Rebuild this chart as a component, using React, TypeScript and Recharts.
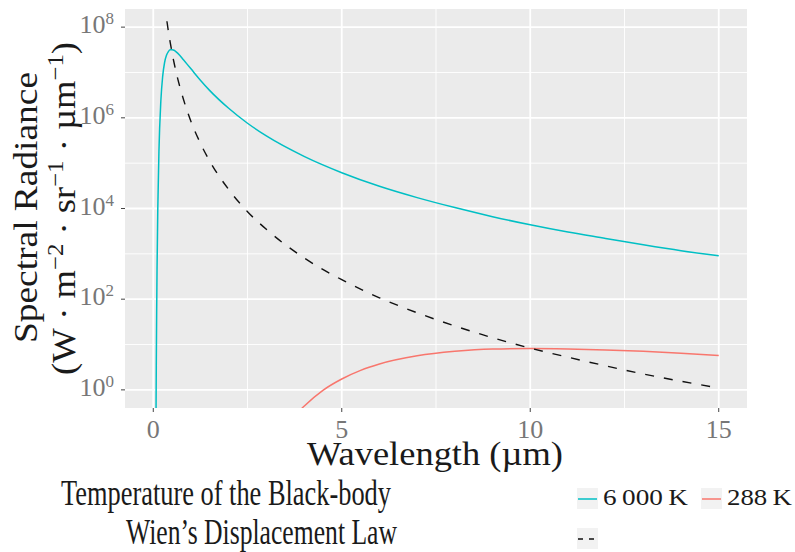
import React from "react";
import { LineChart, Line, XAxis, YAxis, CartesianGrid } from "recharts";

// Wavelength (µm) and log10 spectral radiance (W·m⁻²·sr⁻¹·µm⁻¹)
const hotWavelengths = [0.07, 0.075, 0.08, 0.09, 0.1, 0.12, 0.15, 0.2, 0.25, 0.3, 0.35, 0.4, 0.45, 0.5, 0.55, 0.6, 0.7, 0.8, 1, 1.25, 1.5, 2, 2.5, 3, 4, 5, 6, 7, 8, 9, 10, 11, 12, 13, 14, 15];
const hotLogRadiance = [-1.03, -0.19, 0.54, 1.73, 2.66, 4.0, 5.25, 6.36, 6.92, 7.22, 7.38, 7.46, 7.5, 7.5, 7.49, 7.46, 7.38, 7.28, 7.08, 6.83, 6.6, 6.21, 5.88, 5.6, 5.15, 4.79, 4.49, 4.24, 4.02, 3.82, 3.64, 3.48, 3.34, 3.2, 3.07, 2.96];

const coldWavelengths = [3.8, 4, 4.5, 5, 5.5, 6, 7, 8, 9, 10, 11, 12, 13, 14, 15];
const coldLogRadiance = [-0.53, -0.36, -0.01, 0.24, 0.43, 0.57, 0.75, 0.85, 0.9, 0.91, 0.9, 0.88, 0.85, 0.81, 0.76];

const wienWavelengths = [0.362, 0.4, 0.45, 0.5, 0.55, 0.6, 0.7, 0.8, 1, 1.25, 1.5, 2, 2.5, 3, 4, 5, 6, 7, 8, 9, 10, 11, 12, 13, 14, 15];
const wienLogRadiance = [8.13, 7.91, 7.66, 7.43, 7.22, 7.03, 6.7, 6.41, 5.92, 5.44, 5.04, 4.42, 3.93, 3.54, 2.91, 2.43, 2.03, 1.7, 1.41, 1.15, 0.92, 0.72, 0.53, 0.35, 0.19, 0.04];

const xTicks = [0, 5, 10, 15];
const xMinor = [2.5, 7.5, 12.5];
const yTicks = [0, 2, 4, 6, 8];
const yMinor = [1, 3, 5, 7];

const seriesNames = ["6\u2009000\u2009K", "288\u2009K"];

const hotData = hotWavelengths.map((x, i) => ({ x, y: hotLogRadiance[i] }));
const coldData = coldWavelengths.map((x, i) => ({ x, y: coldLogRadiance[i] }));
const wienData = wienWavelengths.map((x, i) => ({ x, y: wienLogRadiance[i] }));

const FONT = "'Liberation Serif', 'DejaVu Serif', serif";
const CYAN = "#00BFC4";
const RED = "#F8766D";

const XTick = (props: any) => {
  const { x, payload } = props;
  return (
    <text x={x} y={438} textAnchor="middle" fontFamily={FONT} fontSize={26} fill="#777">
      {payload.value}
    </text>
  );
};

const YTick = (props: any) => {
  const { y, payload } = props;
  return (
    <text x={114} y={y + 6} textAnchor="end" fontFamily={FONT} fontSize={26} fill="#777">
      10
      <tspan dy={-9} fontSize={17}>{payload.value}</tspan>
    </text>
  );
};

export default function App() {
  return (
    <div style={{ position: "absolute", left: 0, top: 0, width: 795, height: 552, background: "#fff" }}>
      <LineChart width={795} height={552} margin={{ top: 9, right: 48, bottom: 0, left: 0 }}>
        <CartesianGrid
          fill="#EBEBEB"
          fillOpacity={1}
          stroke="#ffffff"
          strokeWidth={0.9}
          horizontalValues={yMinor}
          verticalValues={xMinor}
        />
        <CartesianGrid
          fill="none"
          stroke="#ffffff"
          strokeWidth={1.8}
          horizontalValues={yTicks}
          verticalValues={xTicks}
        />
        <XAxis
          type="number"
          dataKey="x"
          domain={[-0.75, 15.75]}
          ticks={xTicks}
          allowDataOverflow
          height={144}
          axisLine={false}
          tickLine={{ stroke: "#444", strokeWidth: 1 }}
          tickSize={4}
          tick={<XTick />}
          interval={0}
        />
        <YAxis
          type="number"
          dataKey="y"
          domain={[-0.4, 8.4]}
          ticks={yTicks}
          allowDataOverflow
          width={125}
          axisLine={false}
          tickLine={{ stroke: "#444", strokeWidth: 1 }}
          tickSize={4}
          tick={<YTick />}
          interval={0}
        />
        <Line data={hotData} dataKey="y" type="monotone" stroke={CYAN} strokeWidth={1.5} dot={false} isAnimationActive={false} name={seriesNames[0]} />
        <Line data={coldData} dataKey="y" type="monotone" stroke={RED} strokeWidth={1.5} dot={false} isAnimationActive={false} name={seriesNames[1]} />
        <Line data={wienData} dataKey="y" type="monotone" stroke="#111" strokeWidth={1.4} strokeDasharray="9 10" dot={false} isAnimationActive={false} name="Wien" />
      </LineChart>
      <svg width={795} height={552} style={{ position: "absolute", left: 0, top: 0, pointerEvents: "none" }}>
        {/* Y axis title */}
        <text
          transform="translate(37,207.5) rotate(-90)"
          textAnchor="middle"
          fontFamily={FONT}
          fontSize={34}
          fill="#1a1a1a"
          textLength={271}
          lengthAdjust="spacingAndGlyphs"
        >
          Spectral Radiance
        </text>
        <text
          transform="translate(75,208.5) rotate(-90)"
          textAnchor="middle"
          fontFamily={FONT}
          fontSize={34}
          fill="#1a1a1a"
          textLength={333}
          lengthAdjust="spacingAndGlyphs"
        >
          (W · m<tspan dy={-12} fontSize={23}>−2</tspan>
          <tspan dy={12}> · sr</tspan>
          <tspan dy={-12} fontSize={23}>−1</tspan>
          <tspan dy={12}> · µm</tspan>
          <tspan dy={-12} fontSize={23}>−1</tspan>
          <tspan dy={12}>)</tspan>
        </text>
        {/* X axis title */}
        <text x={307} y={465} fontFamily={FONT} fontSize={33} fill="#1a1a1a" textLength={256} lengthAdjust="spacingAndGlyphs">
          Wavelength (µm)
        </text>
        {/* Legend titles */}
        <text x={61} y={505} fontFamily={FONT} fontSize={35} fill="#1a1a1a" textLength={330} lengthAdjust="spacingAndGlyphs">
          Temperature of the Black-body
        </text>
        <text x={126} y={544} fontFamily={FONT} fontSize={35} fill="#1a1a1a" textLength={271} lengthAdjust="spacingAndGlyphs">
          Wien’s Displacement Law
        </text>
        {/* Legend keys */}
        <rect x={577} y={488} width={21} height={21} fill="#F2F2F2" />
        <line x1={578} y1={499} x2={597} y2={499} stroke={CYAN} strokeWidth={1.5} />
        <text x={603} y={505} fontFamily={FONT} fontSize={23} fill="#1a1a1a" textLength={85} lengthAdjust="spacingAndGlyphs">
          {seriesNames[0]}
        </text>
        <rect x={701} y={488} width={21} height={21} fill="#F2F2F2" />
        <line x1={702} y1={499} x2={721} y2={499} stroke={RED} strokeWidth={1.5} />
        <text x={727} y={505} fontFamily={FONT} fontSize={23} fill="#1a1a1a" textLength={65} lengthAdjust="spacingAndGlyphs">
          {seriesNames[1]}
        </text>
        <rect x={577} y={528} width={21} height={21} fill="#F2F2F2" />
        <line x1={578} y1={539} x2={597} y2={539} stroke="#111" strokeWidth={1.4} strokeDasharray="5 6" />
      </svg>
    </div>
  );
}
